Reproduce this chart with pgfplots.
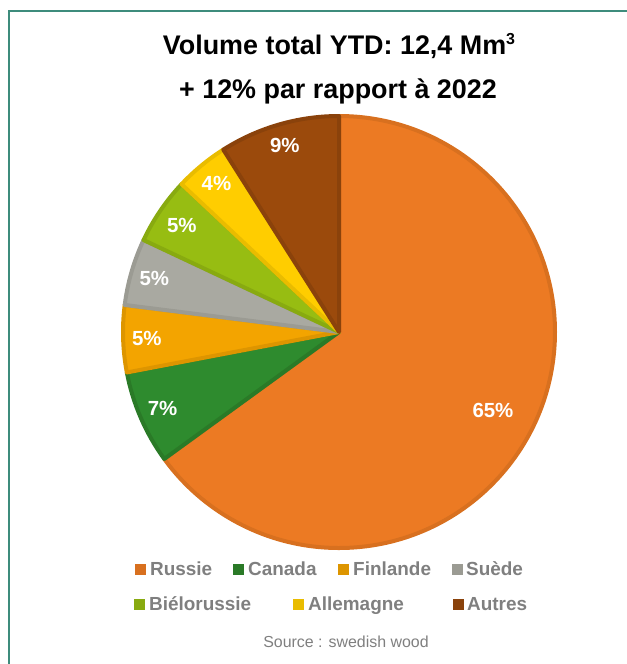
\documentclass[border=0pt]{standalone}
\usepackage{pgfplots}
\pgfplotsset{compat=1.18}
\usepackage{pgfplotstable}
\usepackage{fontspec}
\setmainfont{Liberation Sans}

% slice fills and their darker outlines
\definecolor{pie0}{HTML}{EC7A23}\definecolor{pie0b}{HTML}{D8701F}
\definecolor{pie1}{HTML}{2E8B2E}\definecolor{pie1b}{HTML}{2A7A27}
\definecolor{pie2}{HTML}{F3A400}\definecolor{pie2b}{HTML}{DD9500}
\definecolor{pie3}{HTML}{A9A9A1}\definecolor{pie3b}{HTML}{9B9B93}
\definecolor{pie4}{HTML}{97BD12}\definecolor{pie4b}{HTML}{88AA10}
\definecolor{pie5}{HTML}{FFCD00}\definecolor{pie5b}{HTML}{E9BC00}
\definecolor{pie6}{HTML}{9B4A0C}\definecolor{pie6b}{HTML}{8A420B}
\definecolor{frame}{HTML}{3E8C7C}
\definecolor{legtext}{HTML}{7F7F7F}

% share in %, label radius (fraction of pie radius)
\pgfplotstableread{
name share lab
Russie 65 0.80
Canada 7 0.89
Finlande 5 0.89
Suede 5 0.89
Bielorussie 5 0.88
Allemagne 4 0.89
Autres 9 0.90
}\piedata

\tikzset{
  pielabel/.style={text=white, font=\bfseries\fontsize{20.5}{20}\selectfont},
  legbox/.style={minimum size=11bp, inner sep=0pt, anchor=south west},
  legtxt/.style={anchor=base west, inner sep=0pt, text=legtext,
    font=\bfseries\fontsize{19}{20}\selectfont},
  ttl/.style={anchor=base, inner sep=0pt, font=\bfseries\fontsize{27}{30}\selectfont},
}

\begin{document}
\begin{tikzpicture}
\path[use as bounding box] (0,0) rectangle (627bp,-664bp);

% frame
\draw[frame, line width=1.5bp] (8bp,-11bp) -- (627bp,-11bp);
\draw[frame, line width=1.5bp] (9bp,-11bp) -- (9bp,-664bp);

% titles
\node[ttl] at (339bp,-54bp)
  {Volume total YTD: 12,4 Mm\raisebox{0.36em}{\fontsize{16}{16}\selectfont 3}};
\node[ttl] at (338bp,-98bp) {+ 12\% par rapport à 2022};

\begin{axis}[
  at={(339bp,-332bp)}, anchor=center,
  scale only axis, hide axis, disabledatascaling,
  x=216bp, y=216bp,
  xmin=-1.05, xmax=1.05, ymin=-1.05, ymax=1.05,
  clip=false,
]
\pgfplotstablegetrowsof{\piedata}
\pgfmathtruncatemacro\nrows{\pgfplotsretval-1}
\def\angA{90}
\pgfplotsforeachungrouped \i in {0,...,\nrows}{%
  \pgfplotstablegetelem{\i}{share}\of\piedata \let\sh\pgfplotsretval
  \pgfmathsetmacro\angB{\angA-3.6*\sh}
  \pgfmathsetmacro\px{cos(\angA)}
  \pgfmathsetmacro\py{sin(\angA)}
  \edef\temp{%
    \noexpand\filldraw[fill=pie\i, draw=pie\i b, line width=4bp, line join=round]
      (axis cs:0,0) -- (axis cs:\px,\py)
      arc[start angle=\angA, end angle=\angB, radius=1] -- cycle;
  }\temp
  \global\let\angA\angB
}
\def\angA{90}
\pgfplotsforeachungrouped \i in {0,...,\nrows}{%
  \pgfplotstablegetelem{\i}{share}\of\piedata \let\sh\pgfplotsretval
  \pgfplotstablegetelem{\i}{lab}\of\piedata \let\rl\pgfplotsretval
  \pgfmathsetmacro\angB{\angA-3.6*\sh}
  \pgfmathsetmacro\angM{(\angA+\angB)/2}
  \pgfmathsetmacro\lx{\rl*cos(\angM)}
  \pgfmathsetmacro\ly{\rl*sin(\angM)}
  \edef\temp{%
    \noexpand\node[pielabel] at (axis cs:\lx,\ly) {\sh\noexpand\%};
  }\temp
  \global\let\angA\angB
}
\end{axis}

% legend, row 1
\node[legbox, fill=pie0b] at (135bp,-575bp) {};
\node[legtxt] at (150bp,-575bp) {Russie};
\node[legbox, fill=pie1b] at (233bp,-575bp) {};
\node[legtxt] at (248bp,-575bp) {Canada};
\node[legbox, fill=pie2b] at (338bp,-575bp) {};
\node[legtxt] at (353bp,-575bp) {Finlande};
\node[legbox, fill=pie3b] at (452bp,-575bp) {};
\node[legtxt] at (466bp,-575bp) {Suède};
% legend, row 2
\node[legbox, fill=pie4b] at (134bp,-610bp) {};
\node[legtxt] at (149bp,-610bp) {Biélorussie};
\node[legbox, fill=pie5b] at (293bp,-610bp) {};
\node[legtxt] at (308bp,-610bp) {Allemagne};
\node[legbox, fill=pie6b] at (453bp,-610bp) {};
\node[legtxt] at (467bp,-610bp) {Autres};

\node[anchor=base, inner sep=0pt, text=legtext, font=\fontsize{16}{18}\selectfont]
  at (346bp,-647bp) {Source : swedish wood};
\end{tikzpicture}
\end{document}
